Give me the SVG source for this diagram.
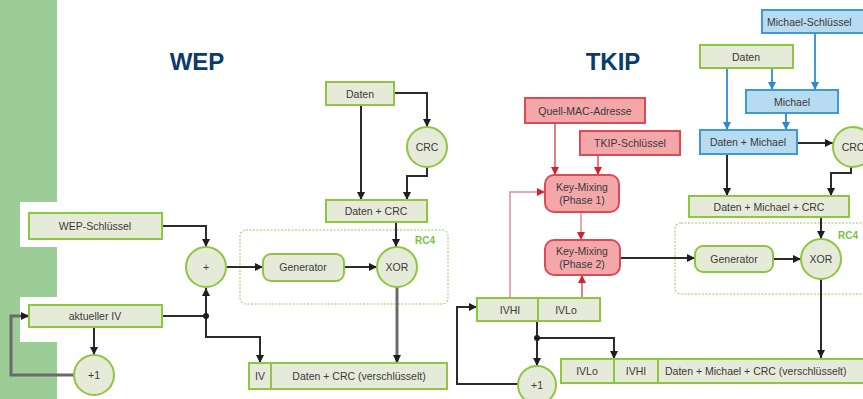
<svg xmlns="http://www.w3.org/2000/svg" width="863" height="399" viewBox="0 0 863 399">
<style>
.t{font-family:"Liberation Sans",Arial,sans-serif;font-size:10.5px;fill:#3a3a3a;text-anchor:middle;dominant-baseline:central}
.s{font-size:10.5px}
.title{font-family:"Liberation Sans",Arial,sans-serif;font-size:24px;font-weight:bold;fill:#0a3a6e;text-anchor:middle}
.rc4{font-family:"Liberation Sans",Arial,sans-serif;font-size:10px;font-weight:bold;fill:#7cc243}
.g{fill:#e6ead9;stroke:#8dc63f;stroke-width:2}
.r{fill:#f4a7a9;stroke:#dc4a57;stroke-width:2}
.b{fill:#b7dbf1;stroke:#3d9ad6;stroke-width:2}
.dash{fill:none;stroke:#b9dc93;stroke-width:1.5;stroke-dasharray:2,1.5}
.c{fill:none;stroke:#2b2b2b;stroke-width:2}
.cg{fill:none;stroke:#6a6a6a;stroke-width:3}
.cr{fill:none;stroke:#e0505c;stroke-width:1.5}
.cp{fill:none;stroke:#e8a8b0;stroke-width:2}
.cb{fill:none;stroke:#3d9ad6;stroke-width:2}
</style>
<defs>
<marker id="ak" viewBox="0 0 10 10" refX="10" refY="5" markerWidth="8" markerHeight="8" markerUnits="userSpaceOnUse" orient="auto"><path d="M0,0 L10,5 L0,10 z" fill="#1e1e1e"/></marker>
<marker id="ar" viewBox="0 0 10 10" refX="10" refY="5" markerWidth="8" markerHeight="8" markerUnits="userSpaceOnUse" orient="auto"><path d="M0,0 L10,5 L0,10 z" fill="#d81f2e"/></marker>
<marker id="ab" viewBox="0 0 10 10" refX="10" refY="5" markerWidth="8" markerHeight="8" markerUnits="userSpaceOnUse" orient="auto"><path d="M0,0 L10,5 L0,10 z" fill="#2a8ad0"/></marker>
</defs>
<rect x="0" y="0" width="863" height="399" fill="#ffffff"/>
<rect x="0" y="0" width="57" height="399" fill="#9ccd96"/>
<rect x="20" y="202" width="37" height="45" fill="#ffffff"/>
<rect x="20" y="297" width="37" height="45" fill="#ffffff"/>

<text class="title" x="197" y="70">WEP</text>
<text class="title" x="613" y="70">TKIP</text>

<g id="rc4-wep"><rect class="dash" x="240" y="230" width="208" height="74" rx="6"/><text class="rc4" x="415" y="244">RC4</text></g>
<g id="rc4-tkip"><rect class="dash" x="675" y="223" width="200" height="71" rx="6"/><text class="rc4" x="838" y="239">RC4</text></g>

<g id="connectors">
<path class="c" d="M162,226 H206 V247" marker-end="url(#ak)"/>
<path class="c" d="M162,316 H206 V288" marker-end="url(#ak)"/>
<path class="c" d="M206,316 V337 H260 V363" marker-end="url(#ak)"/>
<circle cx="206" cy="316" r="3" fill="#1e1e1e"/>
<path class="c" d="M94,327 V355" marker-end="url(#ak)"/>
<path class="cg" d="M74,375 H11 V316 H29" marker-end="url(#ak)"/>
<path class="c" d="M226,267 H263" marker-end="url(#ak)"/>
<path class="c" d="M344,267 H377" marker-end="url(#ak)"/>
<path class="c" d="M394,93 H427 V127" marker-end="url(#ak)"/>
<path class="c" d="M361,105 V200" marker-end="url(#ak)"/>
<path class="c" d="M427,167 V176 H407 V200" marker-end="url(#ak)"/>
<path class="c" d="M396,222 V247" marker-end="url(#ak)"/>
<path class="cg" d="M397,287 V363" marker-end="url(#ak)"/>

<path class="cr" d="M555,123 V175" marker-end="url(#ar)"/>
<path class="cr" d="M598,155 V175" marker-end="url(#ar)"/>
<path class="cp" d="M581,212 V240" marker-end="url(#ar)"/>
<path class="c" d="M620,258 H695" marker-end="url(#ak)"/>
<path class="c" d="M773,259 H801" marker-end="url(#ak)"/>
<path class="c" d="M821,217 V239" marker-end="url(#ak)"/>
<path class="c" d="M821,279 V358" marker-end="url(#ak)"/>
<path class="cp" d="M510,298 V192 H545" marker-end="url(#ar)"/>
<path class="cr" d="M582,298 V275" marker-end="url(#ar)"/>
<path class="c" d="M537,321 V366" marker-end="url(#ak)"/>
<path class="c" d="M537,338 H614 V359" marker-end="url(#ak)"/>
<circle cx="537" cy="338" r="3" fill="#1e1e1e"/>
<path class="c" d="M518,384 H457 V307 H477" marker-end="url(#ak)"/>

<path class="cb" d="M727,68 V130" marker-end="url(#ab)"/>
<path class="cb" d="M772,68 V90" marker-end="url(#ab)"/>
<path class="cb" d="M815,33 V90" marker-end="url(#ab)"/>
<path class="cb" d="M786,113 V130" marker-end="url(#ab)"/>
<path class="c" d="M797,143 H833" marker-end="url(#ak)"/>
<path class="c" d="M727,154 V196" marker-end="url(#ak)"/>
<path class="c" d="M851,167 V173 H831 V196" marker-end="url(#ak)"/>
</g>

<g id="wep-schluessel"><rect class="g" x="29" y="213" width="133" height="26"/><text class="t" x="95" y="226">WEP-Schlüssel</text></g>
<g id="aktueller-iv"><rect class="g" x="29" y="305" width="133" height="22"/><text class="t" x="95" y="316">aktueller IV</text></g>
<g id="plus"><circle class="g" cx="206" cy="267" r="20"/><text class="t" x="206" y="267">+</text></g>
<g id="plus1-wep"><circle class="g" cx="94" cy="375" r="20"/><text class="t" x="94" y="375">+1</text></g>
<g id="generator-wep"><rect class="g" x="263" y="254" width="81" height="27" rx="8"/><text class="t" x="303" y="267">Generator</text></g>
<g id="xor-wep"><circle class="g" cx="397" cy="267" r="20"/><text class="t" x="397" y="267">XOR</text></g>
<g id="daten-wep"><rect class="g" x="326" y="82" width="68" height="23"/><text class="t" x="360" y="93.5">Daten</text></g>
<g id="crc-wep"><circle class="g" cx="427" cy="147" r="20"/><text class="t" x="427" y="147">CRC</text></g>
<g id="daten-crc"><rect class="g" x="326" y="200" width="101" height="22"/><text class="t" x="376" y="211">Daten + CRC</text></g>
<g id="out-wep"><rect class="g" x="249" y="363" width="22" height="26"/><text class="t" x="260" y="376">IV</text><rect class="g" x="271" y="363" width="176" height="26"/><text class="t" x="359" y="376">Daten + CRC (verschlüsselt)</text></g>

<g id="quell-mac"><rect class="r" x="525" y="98" width="120" height="25"/><text class="t" x="585" y="110.5">Quell-MAC-Adresse</text></g>
<g id="tkip-schluessel"><rect class="r" x="580" y="131" width="100" height="24"/><text class="t" x="630" y="143">TKIP-Schlüssel</text></g>
<g id="key-mixing-1"><rect class="r" x="545" y="175" width="74" height="37" rx="9"/><text class="t s" x="582" y="187">Key-Mixing</text><text class="t s" x="582" y="200">(Phase 1)</text></g>
<g id="key-mixing-2"><rect class="r" x="545" y="240" width="75" height="35" rx="9"/><text class="t s" x="582" y="251">Key-Mixing</text><text class="t s" x="582" y="264">(Phase 2)</text></g>
<g id="ivhi-ivlo"><rect class="g" x="477" y="298" width="61" height="23"/><text class="t" x="510" y="309.5">IVHI</text><rect class="g" x="538" y="298" width="62" height="23"/><text class="t" x="566" y="309.5">IVLo</text></g>
<g id="plus1-tkip"><circle class="g" cx="537" cy="385" r="19"/><text class="t" x="537" y="385">+1</text></g>
<g id="generator-tkip"><rect class="g" x="695" y="246" width="78" height="26" rx="8"/><text class="t" x="734" y="259">Generator</text></g>
<g id="xor-tkip"><circle class="g" cx="821" cy="259" r="20"/><text class="t" x="821" y="259">XOR</text></g>
<g id="michael-schluessel"><rect class="b" x="762" y="10" width="110" height="23"/><text class="t" x="767" y="21.5" style="text-anchor:start">Michael-Schlüssel</text></g>
<g id="daten-tkip"><rect class="g" x="700" y="45" width="93" height="23"/><text class="t" x="746" y="56.5">Daten</text></g>
<g id="michael"><rect class="b" x="746" y="90" width="92" height="23"/><text class="t" x="792" y="101.5">Michael</text></g>
<g id="daten-michael"><rect class="b" x="700" y="130" width="97" height="24"/><text class="t" x="748" y="142">Daten + Michael</text></g>
<g id="crc-tkip"><circle class="g" cx="853" cy="147" r="20"/><text class="t" x="853" y="147">CRC</text></g>
<g id="daten-michael-crc"><rect class="g" x="689" y="196" width="160" height="21"/><text class="t" x="769" y="206.5">Daten + Michael + CRC</text></g>
<g id="out-tkip"><rect class="g" x="561" y="359" width="53" height="24"/><text class="t" x="587" y="371">IVLo</text><rect class="g" x="614" y="359" width="44" height="24"/><text class="t" x="636" y="371">IVHI</text><rect class="g" x="658" y="359" width="215" height="24"/><text class="t" x="665" y="371" style="text-anchor:start">Daten + Michael + CRC (verschlüsselt)</text></g>
</svg>
